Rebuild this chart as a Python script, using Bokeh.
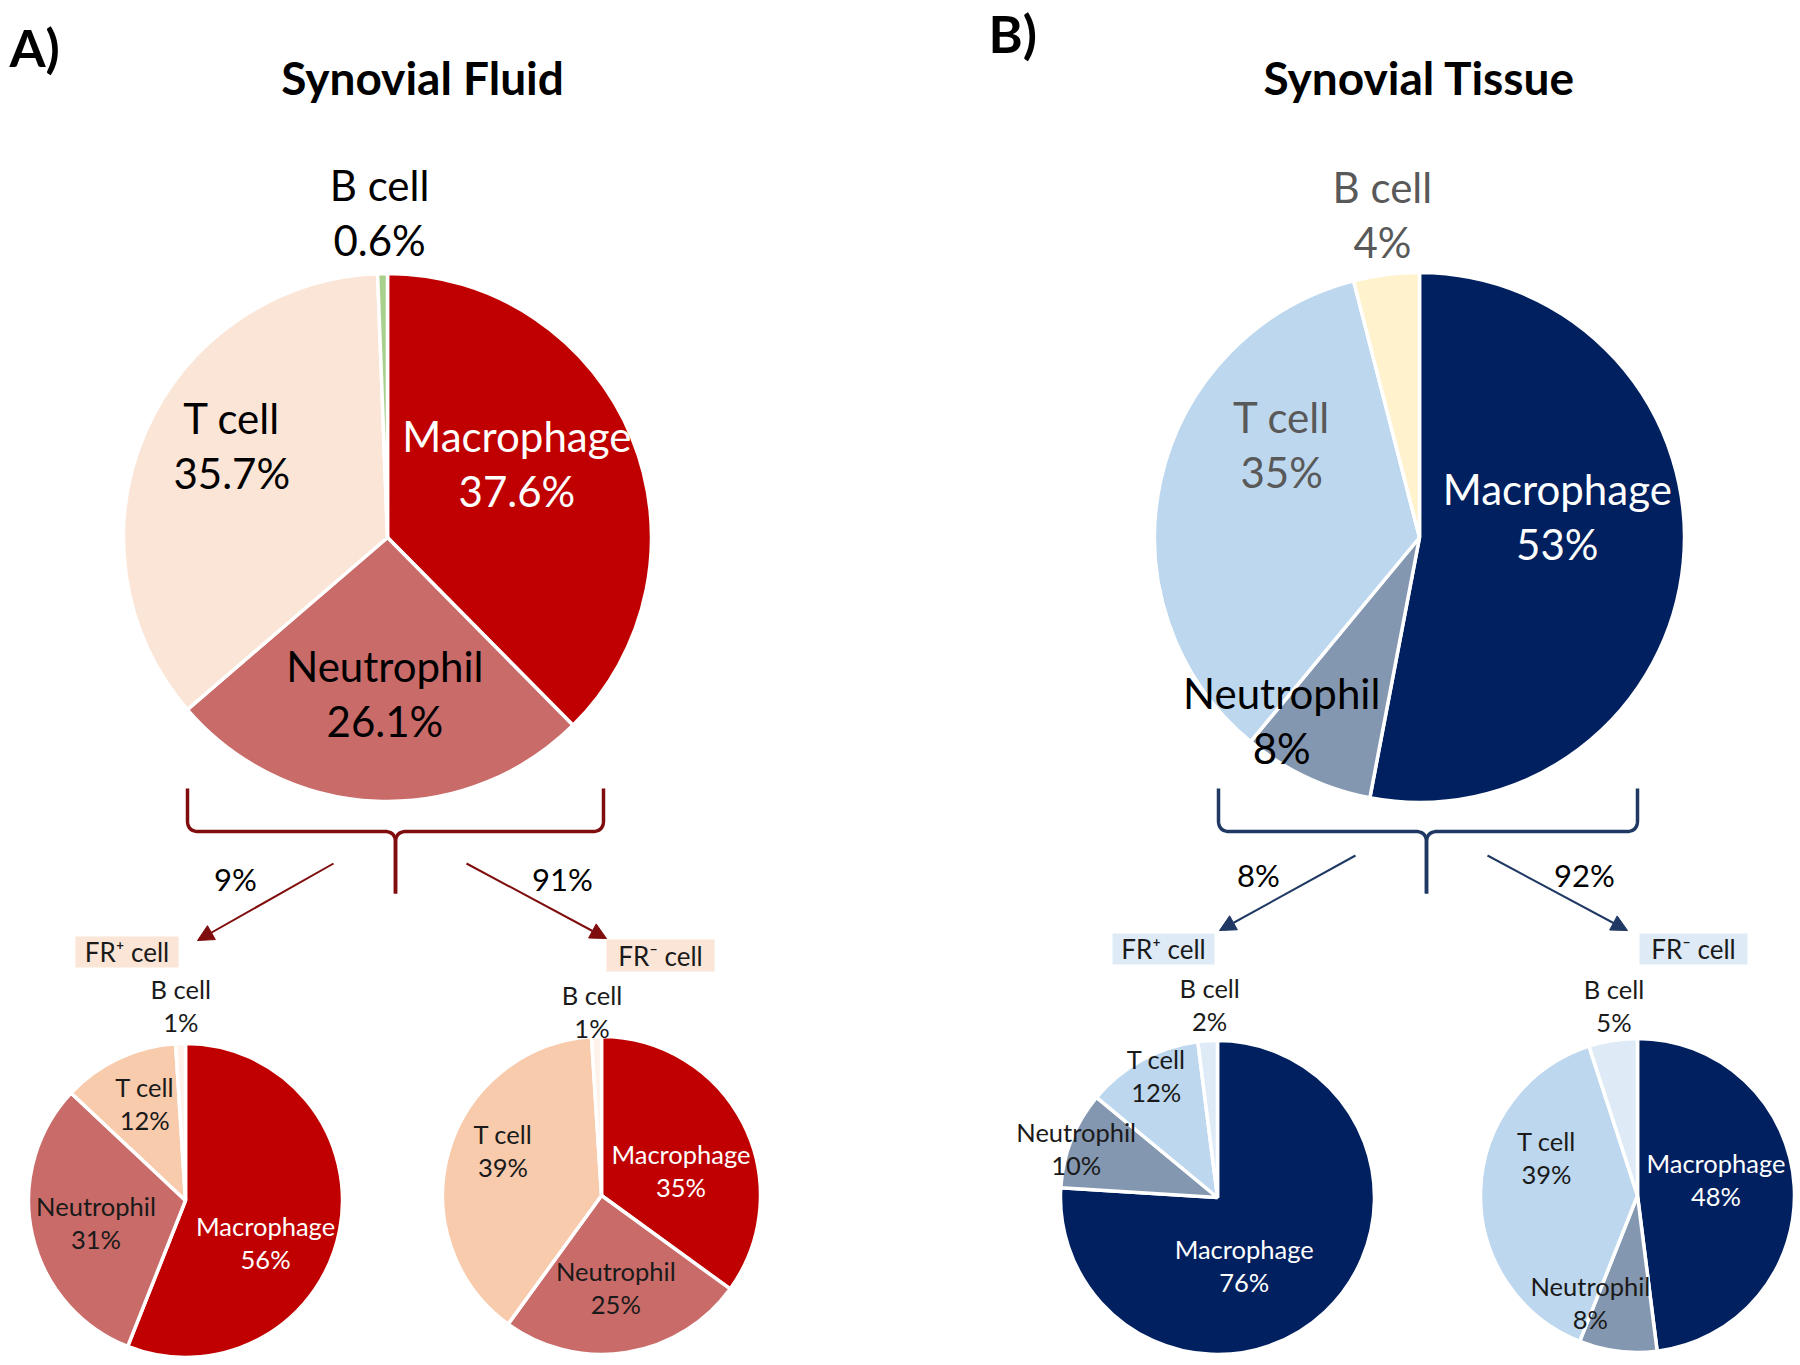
import math
import numpy as np
from bokeh.plotting import figure
from bokeh.models import ColumnDataSource, Range1d, Arrow, NormalHead
from bokeh.core.properties import value
from bokeh.embed import file_html
from bokeh.resources import INLINE

# ---------------- data ----------------
categories = ["Macrophage", "Neutrophil", "T cell", "B cell"]
sf_total = [37.6, 26.1, 35.7, 0.6]
sf_fr_pos = [56, 31, 12, 1]
sf_fr_neg = [35, 25, 39, 1]
st_total = [53, 8, 35, 4]
st_fr_pos = [76, 10, 12, 2]
st_fr_neg = [48, 8, 39, 5]
sf_split = [9, 91]
st_split = [8, 92]
panel_titles = ["Synovial Fluid", "Synovial Tissue"]
panel_tags = ["A)", "B)"]
fr_labels = ["FR\u207a cell", "FR\u207b cell"]

# ---------------- styles ----------------
FONT = "Lato"
sf_main_colors = ["#C00000", "#C96B68", "#FBE5D6", "#A9D18E"]
sf_small_colors = ["#C00000", "#C96B68", "#F8CBAD", "#FDF1E9"]
st_main_colors = ["#002060", "#8497B0", "#BDD7EE", "#FFF2CC"]
st_small_colors = ["#002060", "#8497B0", "#BDD7EE", "#DEEBF7"]
SF_DARK = "#7F0D0D"
ST_DARK = "#1F3864"

PW, PH = 1796, 1360
p = figure(width=PW, height=PH, x_range=Range1d(0, PW), y_range=Range1d(-PH, 0),
           output_backend="svg", toolbar_location=None, min_border=0,
           x_axis_location=None, y_axis_location=None)
p.grid.visible = False
p.outline_line_color = None
p.background_fill_color = "white"
p.border_fill_color = "white"


def Y(y):
    return -y


# pie layout: center, radius, values, colours, label offsets (in radii), font, spacing, label colours
pies = [
    dict(c=(387, 537), r=264, vals=sf_total, cols=sf_main_colors,
         offs=[(0.49, -0.28), (-0.01, 0.59), (-0.59, -0.35), (-0.03, -1.23)],
         fs=42, sp=55, lc=["white", "black", "black", "black"], dec=True),
    dict(c=(185, 1200), r=157, vals=sf_fr_pos, cols=sf_small_colors,
         offs=[(0.51, 0.27), (-0.57, 0.14), (-0.26, -0.62), (-0.03, -1.24)],
         fs=25.5, sp=33, lc=["white", "#1a1a1a", "#1a1a1a", "#1a1a1a"], dec=False),
    dict(c=(601, 1195), r=159, vals=sf_fr_neg, cols=sf_small_colors,
         offs=[(0.50, -0.16), (0.09, 0.58), (-0.62, -0.28), (-0.06, -1.16)],
         fs=25.5, sp=33, lc=["white", "#1a1a1a", "#1a1a1a", "#1a1a1a"], dec=False),
    dict(c=(1419, 537), r=265, vals=st_total, cols=st_main_colors,
         offs=[(0.52, -0.08), (-0.52, 0.69), (-0.52, -0.35), (-0.14, -1.22)],
         fs=42, sp=55, lc=["white", "black", "#595959", "#595959"], dec=False),
    dict(c=(1217, 1197), r=157, vals=st_fr_pos, cols=st_small_colors,
         offs=[(0.17, 0.43), (-0.90, -0.31), (-0.39, -0.78), (-0.05, -1.23)],
         fs=25.5, sp=33, lc=["white", "#1a1a1a", "#1a1a1a", "#1a1a1a"], dec=False),
    dict(c=(1637, 1195), r=157, vals=st_fr_neg, cols=st_small_colors,
         offs=[(0.50, -0.10), (-0.30, 0.68), (-0.58, -0.24), (-0.15, -1.21)],
         fs=25.5, sp=33, lc=["white", "#1a1a1a", "#1a1a1a", "#1a1a1a"], dec=False),
]

for pie in pies:
    vals = pie["vals"]
    tot = float(sum(vals))
    cum = np.concatenate([[0.0], np.cumsum(vals)]) / tot
    starts = [math.pi / 2 - 2 * math.pi * cum[i] for i in range(len(vals))]
    ends = [math.pi / 2 - 2 * math.pi * cum[i + 1] for i in range(len(vals))]
    cx, cy = pie["c"]
    src = ColumnDataSource(dict(x=[cx] * len(vals), y=[Y(cy)] * len(vals),
                                start=starts, end=ends, color=pie["cols"], cat=categories))
    p.wedge(x="x", y="y", radius=pie["r"], start_angle="start", end_angle="end",
            direction="clock", fill_color="color", line_color="white", line_width=3.5, source=src)
    names_x, names_y, pct_y, names, pcts = [], [], [], [], []
    for i, cat in enumerate(categories):
        ox, oy = pie["offs"][i]
        bx = cx + ox * pie["r"]
        by = cy + oy * pie["r"]
        names_x.append(bx)
        names_y.append(Y(by - pie["sp"] / 2))
        pct_y.append(Y(by + pie["sp"] / 2))
        names.append(cat)
        v = vals[i]
        pcts.append(f"{v:.1f}%" if pie["dec"] else f"{v:g}%")
    lsrc = ColumnDataSource(dict(x=names_x + names_x, y=names_y + pct_y, t=names + pcts,
                                 col=pie["lc"] + pie["lc"]))
    p.text(x="x", y="y", text="t", text_color="col", source=lsrc, text_align="center",
           text_baseline="middle", text_font=value(FONT), text_font_size=f"{pie['fs']}px")


# brace shapes
def brace(xl, xr, xc, ytop, ymid, ybot, k=11):
    def quad(p0, p1, p2, n=12):
        t = np.linspace(0, 1, n)
        xs = (1 - t) ** 2 * p0[0] + 2 * (1 - t) * t * p1[0] + t ** 2 * p2[0]
        ys = (1 - t) ** 2 * p0[1] + 2 * (1 - t) * t * p1[1] + t ** 2 * p2[1]
        return list(xs), list(ys)
    paths = []
    for side in (xl, xr):
        s = 1 if side < xc else -1
        xs, ys = [side], [ytop]
        a, b = quad((side, ymid - k), (side, ymid), (side + s * k, ymid))
        xs += a; ys += b
        a, b = quad((xc - s * k, ymid), (xc, ymid), (xc, ymid + k))
        xs += a; ys += b
        xs.append(xc); ys.append(ybot)
        paths.append((xs, [Y(v) for v in ys]))
    return paths


for (xl, xr, xc, col) in [(187, 603, 395, SF_DARK), (1218, 1637, 1426, ST_DARK)]:
    paths = brace(xl, xr, xc, 788, 831, 893)
    p.multi_line(xs=[q[0] for q in paths], ys=[q[1] for q in paths], line_color=col, line_width=3.5)

# arrows
arrows = [((333, 863), (197, 940), SF_DARK), ((466, 863), (606, 938), SF_DARK),
          ((1355, 855), (1219, 930), ST_DARK), ((1487, 855), (1627, 930), ST_DARK)]
for (s, e, col) in arrows:
    p.add_layout(Arrow(end=NormalHead(size=16, fill_color=col, line_color=col),
                       x_start=s[0], y_start=Y(s[1]), x_end=e[0], y_end=Y(e[1]),
                       line_color=col, line_width=2))

# split percentages
split_src = ColumnDataSource(dict(x=[235, 562, 1258, 1584], y=[Y(878), Y(878), Y(874), Y(874)],
                                  t=[f"{v}%" for v in sf_split + st_split]))
p.text(x="x", y="y", text="t", source=split_src, text_align="center", text_baseline="middle",
       text_font=value(FONT), text_font_size="31px", text_color="black")

# FR label boxes
boxes = [(75, 178, 936, 967, "#FBE5D6", fr_labels[0]), (606, 714, 939, 971, "#FBE5D6", fr_labels[1]),
         (1112, 1214, 933, 964, "#DEEBF7", fr_labels[0]), (1639, 1747, 933, 964, "#DEEBF7", fr_labels[1])]
p.quad(left=[b[0] for b in boxes], right=[b[1] for b in boxes], top=[Y(b[2]) for b in boxes],
       bottom=[Y(b[3]) for b in boxes], fill_color=[b[4] for b in boxes], line_color=None)
p.text(x=[(b[0] + b[1]) / 2 for b in boxes], y=[Y((b[2] + b[3]) / 2) for b in boxes],
       text=[b[5] for b in boxes], text_align="center", text_baseline="middle",
       text_font=value(FONT), text_font_size="26px", text_color="#1a1a1a")

# titles and tags
p.text(x=[422, 1419], y=[Y(77), Y(77)], text=panel_titles, text_align="center", text_baseline="middle",
       text_font=value(FONT), text_font_style="bold", text_font_size="46px", text_color="black")
p.text(x=[9, 988], y=[Y(46), Y(32)], text=panel_tags, text_align="left", text_baseline="middle",
       text_font=value(FONT), text_font_style="bold", text_font_size="52px", text_color="black")

open("out.html", "w").write(file_html(p, INLINE))
